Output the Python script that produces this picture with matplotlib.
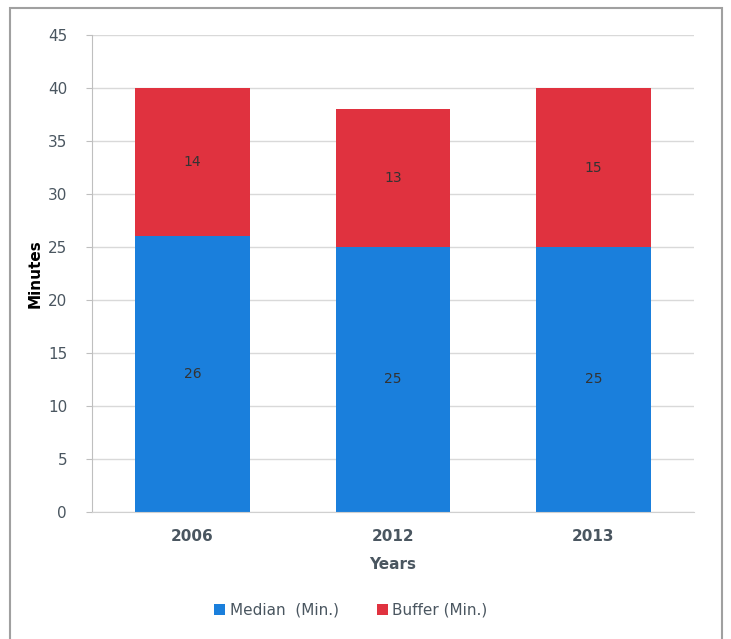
import matplotlib
matplotlib.use('Agg')
import matplotlib.pyplot as plt
from matplotlib.patches import Rectangle

years = ['2006', '2012', '2013']
median = [26, 25, 25]
buffer = [14, 13, 15]

blue = '#1a7fdc'
red = '#e0323f'
txt = '#4a5660'

fig = plt.figure(figsize=(7.31, 6.39), dpi=100)
ax = fig.add_axes([0.126, 0.199, 0.823, 0.746])

x = range(len(years))
b1 = ax.bar(x, median, width=0.57, color=blue, label='Median  (Min.)', zorder=2)
b2 = ax.bar(x, buffer, width=0.57, bottom=median, color=red, label='Buffer (Min.)', zorder=2)

for i in x:
    ax.text(i, median[i] / 2, str(median[i]), ha='center', va='center', fontsize=10, color='#333333')
    ax.text(i, median[i] + buffer[i] / 2, str(buffer[i]), ha='center', va='center', fontsize=10, color='#333333')

ax.set_xlim(-0.5, 2.5)
ax.set_ylim(0, 45)
ax.set_yticks(range(0, 46, 5))
ax.set_xticks(list(x))
ax.set_xticklabels(years, fontweight='semibold')
ax.yaxis.grid(True, color='#d9d9d9', linewidth=1, zorder=0)
ax.set_axisbelow(True)
for s in ['top', 'right']:
    ax.spines[s].set_visible(False)
ax.spines['left'].set_color('#bfbfbf')
ax.spines['bottom'].set_color('#d0d0d0')
ax.tick_params(axis='y', length=4, color='#bfbfbf', labelcolor=txt, labelsize=11, pad=14)
ax.tick_params(axis='x', length=0, labelcolor=txt, labelsize=11, pad=12)

ax.set_ylabel('Minutes', fontsize=11, fontweight='bold', color='black', labelpad=4)
ax.set_xlabel('Years', fontsize=11, fontweight='bold', color=txt, labelpad=10)

fig.legend(handles=[b1, b2], loc='center', bbox_to_anchor=(0.48, 0.045), ncol=2,
           frameon=False, fontsize=11, handlelength=0.7, handleheight=0.7,
           handletextpad=0.3, columnspacing=2.5, labelcolor=txt)

fig.patches.append(Rectangle((0.014, -0.1), 0.974, 1.087, transform=fig.transFigure,
                             fill=False, edgecolor='#a0a0a0', linewidth=1.5))

fig.savefig('out.png', dpi=100)
